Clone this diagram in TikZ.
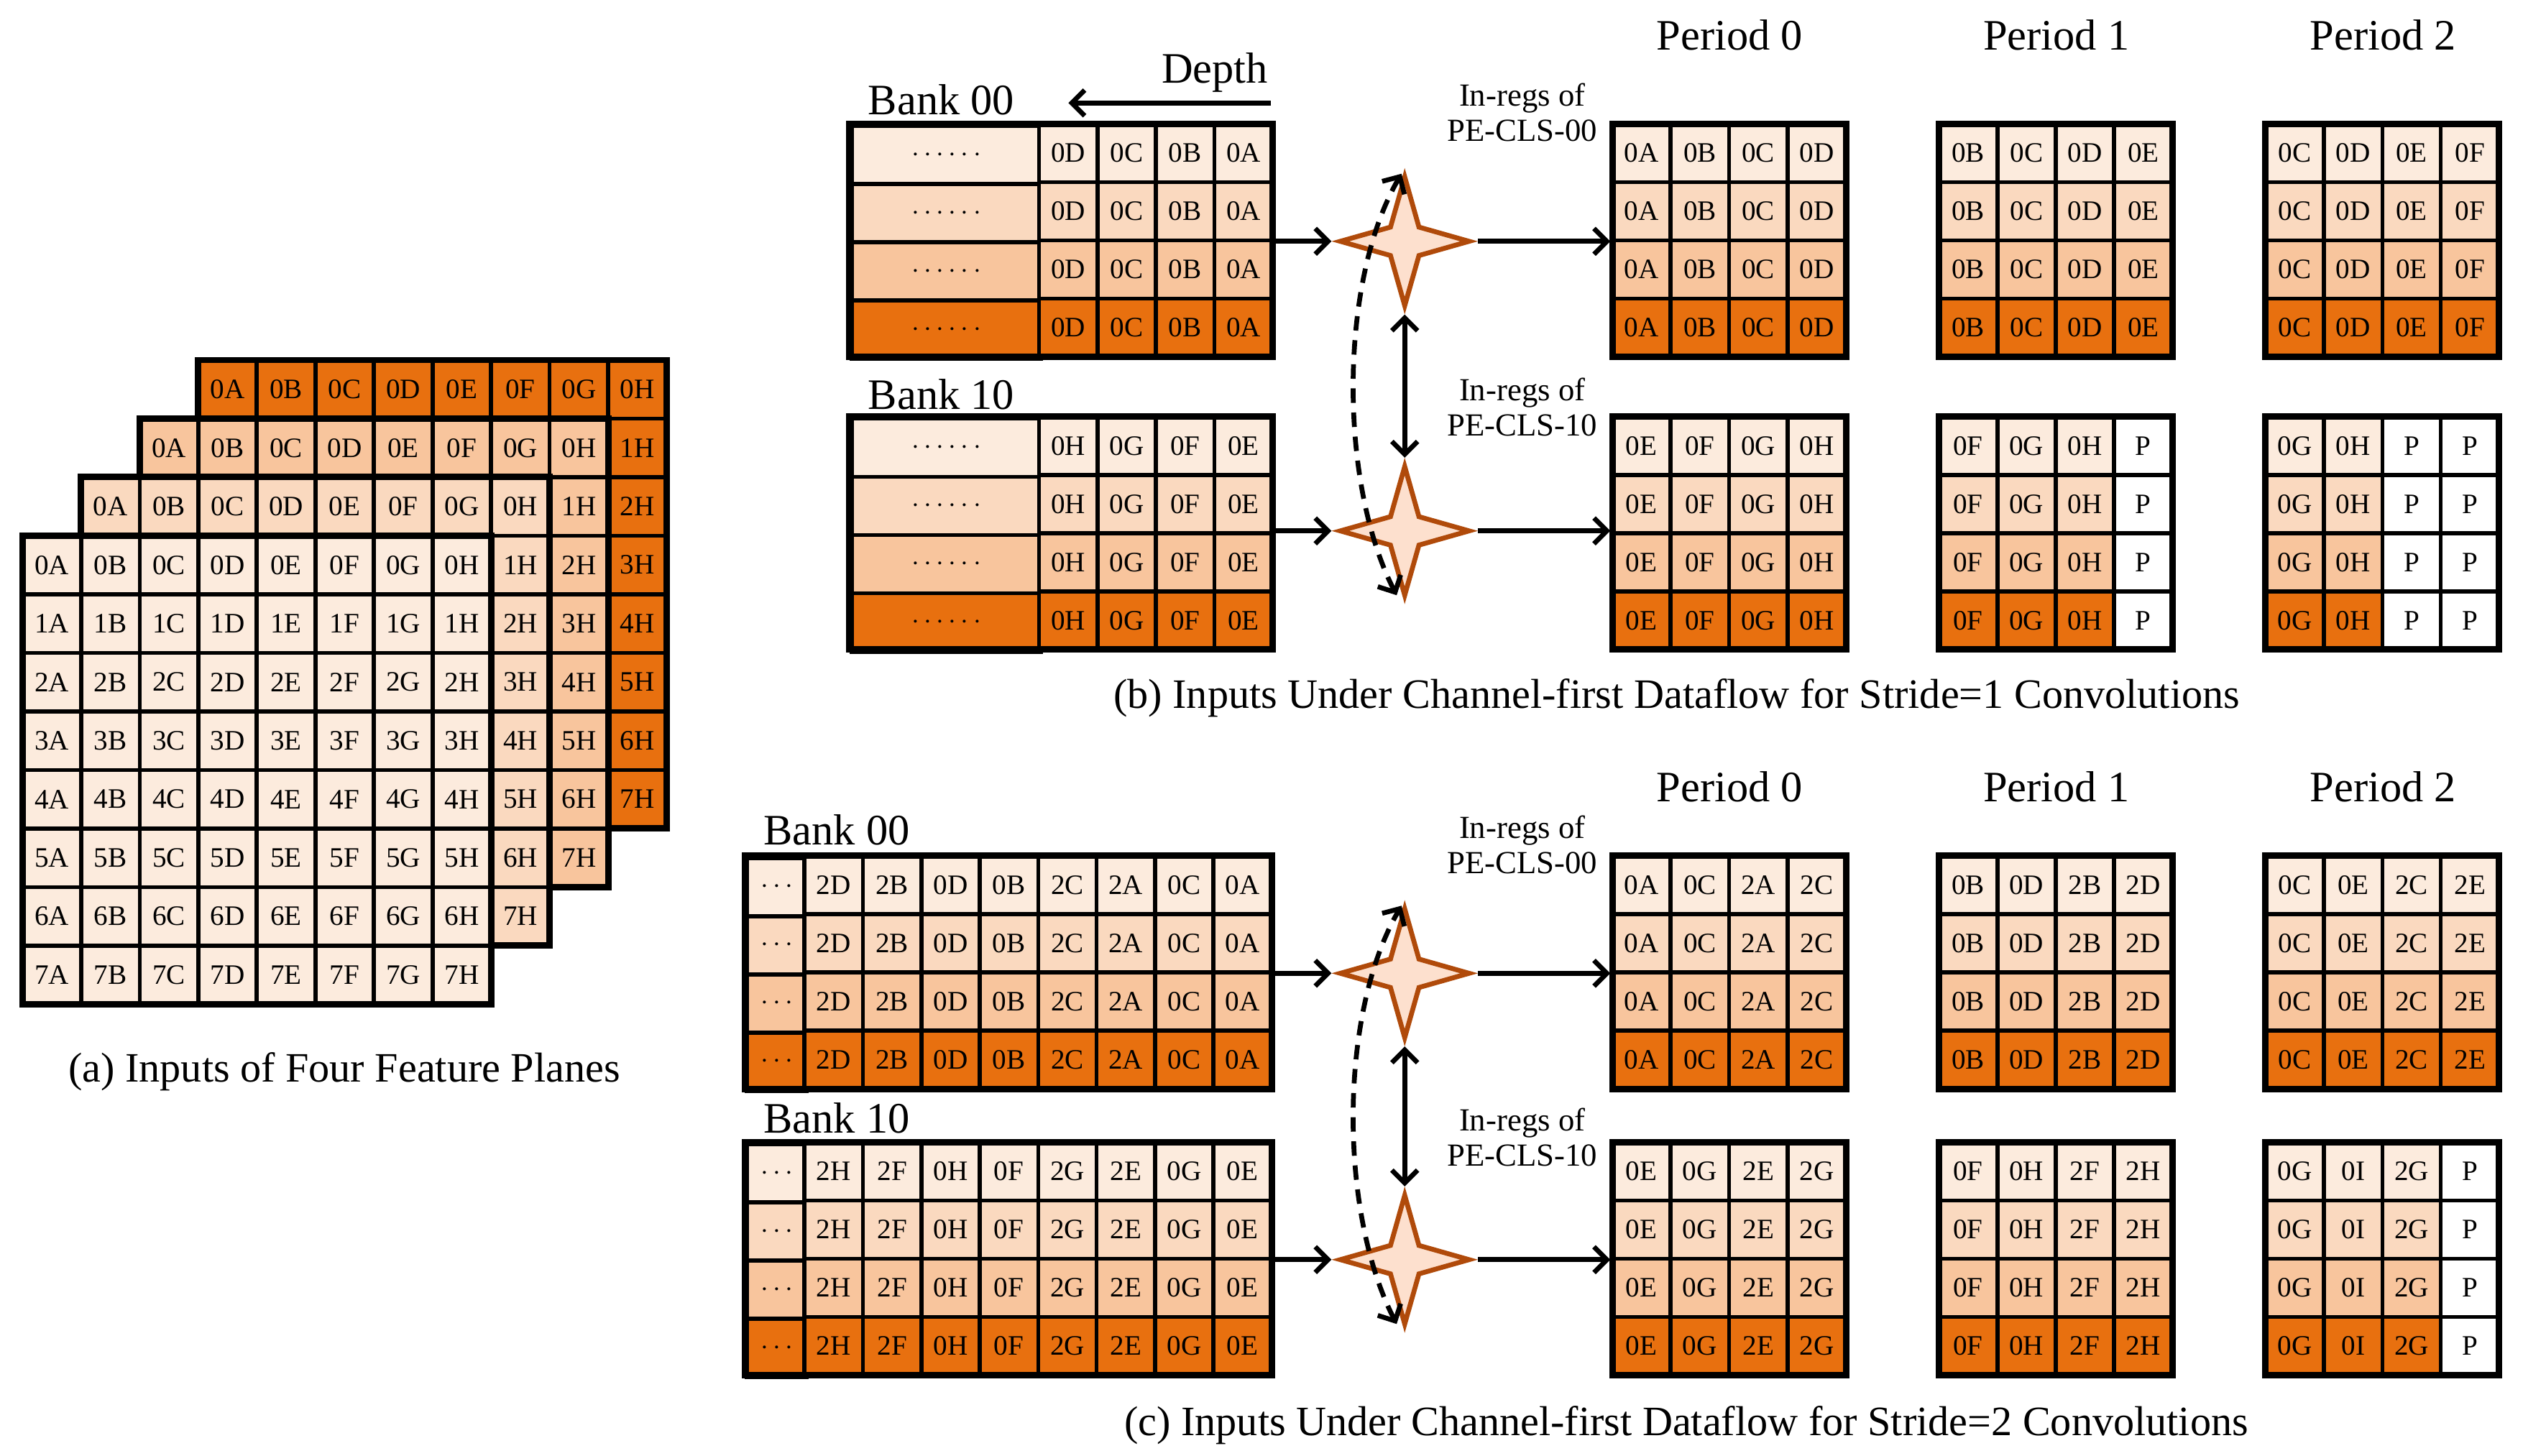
\documentclass[tikz,border=0pt]{standalone}
\usepackage{fontspec}
\setmainfont{Liberation Serif}
\usetikzlibrary{shapes.geometric,arrows.meta}
\definecolor{row1}{HTML}{FCEBDD}
\definecolor{row2}{HTML}{FAD9BF}
\definecolor{row3}{HTML}{F8C59D}
\definecolor{row4}{HTML}{E8700F}
\definecolor{starfill}{HTML}{FDE0CE}
\definecolor{starline}{HTML}{B04A0A}
\newcommand{\cellfont}{\fontsize{17.5}{18}\selectfont}
% 4x4 register grid: name, left x, top y, labels of one row
\newcommand{\regs}[4]{%
  \foreach \r in {1,...,4}{
    \foreach \t [count=\c] in {#4}{
      \node (#1-\r-\c) [cell, fill=row\r, lbl/\t/.try] at ({#2+(\c-0.5)*36.3},{#3+(\r-0.5)*36.2}) {\t};
    }
  }
  \draw [frame] (#2,#3) rectangle ++(145.2,144.8);
}
% memory bank: name, left x, top y, width of dots cell, dots, labels of one row, total width
\newcommand{\bank}[7]{%
  \foreach \r in {1,...,4}{
    \node (#1-\r-0) [cell, fill=row\r, minimum width=#4, anchor=north west] at (#2,{#3+(\r-1)*36.2}) {#5};
    \foreach \t [count=\c] in {#6}{
      \node (#1-\r-\c) [cell, fill=row\r] at ({#2+#4+(\c-0.5)*36.3},{#3+(\r-0.5)*36.2}) {\t};
    }
  }
  \draw [frame] (#2,#3) rectangle ++(#7,144.8);
}
\tikzset{lbl/P/.style={fill=white}}

\begin{document}
\begin{tikzpicture}[x=1pt, y=-1pt]
    % Define styles
    \tikzstyle{cell} = [rectangle, draw=black, line width=2.5pt, minimum width=36.3pt, minimum height=36.2pt, inner sep=0pt, text centered, font=\cellfont]
    \tikzstyle{frame} = [draw=black, line width=4pt]
    \tikzstyle{title} = [font=\fontsize{27}{28}\selectfont]
    \tikzstyle{small} = [font=\fontsize{20}{22}\selectfont, align=center]
    \tikzstyle{pe} = [star, star points=4, star point ratio=3.2, minimum size=80pt, inner sep=0pt, fill=starfill, draw=starline, line width=3pt]
    \tikzstyle{arrow} = [line width=3pt, -{Straight Barb[length=8pt,width=16pt]}]
    \tikzstyle{darrow} = [line width=3pt, {Straight Barb[length=8pt,width=16pt]}-{Straight Barb[length=8pt,width=16pt]}]

    \useasboundingbox (0,0) rectangle (1568,905);

    % (a) four feature planes
    \foreach \k/\col in {3/row4,2/row3,1/row2,0/row1}{
      \foreach \i in {0,...,7}{
        \foreach \L [count=\j] in {A,B,C,D,E,F,G,H}{
          \node (fp\k-\i\L) [cell, fill=\col, minimum width=36.4pt, minimum height=36.4pt]
            at ({14+36.4*\k+(\j-0.5)*36.4},{333-36.4*\k+(\i+0.5)*36.4})
            {\ifnum\k=0 \i\L\else\ifnum\i=0 \i\L\else\if\L H\i\L\fi\fi\fi};
        }
      }
      \draw [frame] ({14+36.4*\k},{333-36.4*\k}) rectangle ++(291.2,291.2);
    }
    \node (capa) [title, font=\fontsize{26}{28}\selectfont] at (214,666) {(a) Inputs of Four Feature Planes};

    % (b) stride 1
    \node (tb0) [title] at (1075,22) {Period 0};
    \node (tb1) [title] at (1278,22) {Period 1};
    \node (tb2) [title] at (1481,22) {Period 2};
    \node (depth) [title] at (755,45) {Depth};
    \draw [arrow] (790,64) -- (664,64);
    \node (bankb0) [title] at (585,62) {Bank 00};
    \node (bankb1) [title] at (585,245) {Bank 10};
    \bank{bb0}{528}{77}{117.8pt}{$\cdots\cdots$}{0D,0C,0B,0A}{263}
    \bank{bb1}{528}{259}{117.8pt}{$\cdots\cdots$}{0H,0G,0F,0E}{263}
    \regs{b00}{1002}{77}{0A,0B,0C,0D}
    \regs{b01}{1205}{77}{0B,0C,0D,0E}
    \regs{b02}{1408}{77}{0C,0D,0E,0F}
    \regs{b10}{1002}{259}{0E,0F,0G,0H}
    \regs{b11}{1205}{259}{0F,0G,0H,P}
    \regs{b12}{1408}{259}{0G,0H,P,P}
    \node (inb0) [small] at (946,70) {In-regs of\\PE-CLS-00};
    \node (inb1) [small] at (946,253) {In-regs of\\PE-CLS-10};
    \node (sb0) [pe] at (873,150) {};
    \node (sb1) [pe] at (873,330) {};
    \draw [arrow] (bb0-3-4.east |- sb0) -- (sb0.west);
    \draw [arrow] (bb1-3-4.east |- sb1) -- (sb1.west);
    \draw [arrow] (sb0.east) -- (b00-3-1.west |- sb0);
    \draw [arrow] (sb1.east) -- (b10-3-1.west |- sb1);
    \draw [darrow] (sb0.south) -- (sb1.north);
    \coordinate (db0) at (868,370);
    \coordinate (db1) at (871,108);
    \draw [darrow, dashed, dash pattern=on 9pt off 6pt] (db0) .. controls (832,300) and (832,175) .. (db1);
    \node (capb) [title, font=\fontsize{26}{28}\selectfont] at (1042,434) {(b) Inputs Under Channel-first Dataflow for Stride=1 Convolutions};

    % (c) stride 2
    \node (tc0) [title] at (1075,489) {Period 0};
    \node (tc1) [title] at (1278,489) {Period 1};
    \node (tc2) [title] at (1481,489) {Period 2};
    \node (bankc0) [title] at (520,516) {Bank 00};
    \node (bankc1) [title] at (520,695) {Bank 10};
    \bank{bc0}{463}{532}{37pt}{$\cdots$}{2D,2B,0D,0B,2C,2A,0C,0A}{327.4}
    \bank{bc1}{463}{710}{37pt}{$\cdots$}{2H,2F,0H,0F,2G,2E,0G,0E}{327.4}
    \regs{c00}{1002}{532}{0A,0C,2A,2C}
    \regs{c01}{1205}{532}{0B,0D,2B,2D}
    \regs{c02}{1408}{532}{0C,0E,2C,2E}
    \regs{c10}{1002}{710}{0E,0G,2E,2G}
    \regs{c11}{1205}{710}{0F,0H,2F,2H}
    \regs{c12}{1408}{710}{0G,0I,2G,P}
    \node (inc0) [small] at (946,525) {In-regs of\\PE-CLS-00};
    \node (inc1) [small] at (946,707) {In-regs of\\PE-CLS-10};
    \node (sc0) [pe] at (873,605) {};
    \node (sc1) [pe] at (873,783) {};
    \draw [arrow] (bc0-3-8.east |- sc0) -- (sc0.west);
    \draw [arrow] (bc1-3-8.east |- sc1) -- (sc1.west);
    \draw [arrow] (sc0.east) -- (c00-3-1.west |- sc0);
    \draw [arrow] (sc1.east) -- (c10-3-1.west |- sc1);
    \draw [darrow] (sc0.south) -- (sc1.north);
    \coordinate (dc0) at (868,823);
    \coordinate (dc1) at (871,563);
    \draw [darrow, dashed, dash pattern=on 9pt off 6pt] (dc0) .. controls (832,753) and (832,630) .. (dc1);
    \node (capc) [title, font=\fontsize{26}{28}\selectfont] at (1048,886) {(c) Inputs Under Channel-first Dataflow for Stride=2 Convolutions};
\end{tikzpicture}
\end{document}
